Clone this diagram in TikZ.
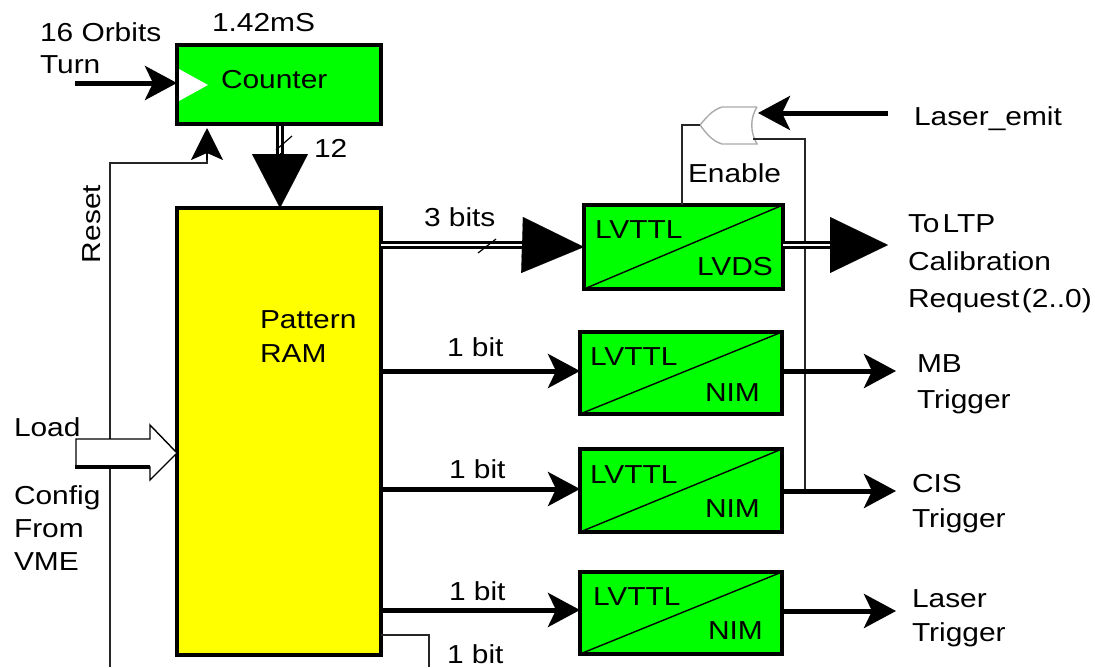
\documentclass[tikz,border=0pt]{standalone}
\usepackage{fontspec}
\setmainfont[FakeStretch=1.15]{Liberation Sans}
\usetikzlibrary{arrows.meta,calc}
\definecolor{boxgreen}{RGB}{0,255,0}
\definecolor{ramyellow}{RGB}{255,255,0}
\definecolor{gategray}{RGB}{170,170,170}
\tikzset{
  lbl/.style={anchor=base west,inner sep=0pt,outer sep=0pt,font=\fontsize{26}{28}\selectfont,text=black},
  greenbox/.style={draw=black,line width=4pt,fill=boxgreen,anchor=north west,inner sep=0pt,outer sep=0pt},
  rambox/.style={draw=black,line width=4pt,fill=ramyellow,anchor=north west,inner sep=0pt,outer sep=0pt},
  sig/.style={line width=5pt,-{Stealth[length=32pt,width=34pt,inset=8pt]}},
  thin line/.style={line width=1.6pt,draw=black!85},
  bus/.style={draw=black,line width=3pt,double=white,double distance=2.6pt},
  bushead/.style={line width=0.1pt,-{Triangle[length=#1,width=56pt]}},
  diag/.style={line width=1.4pt,draw=black},
}
\begin{document}
\begin{tikzpicture}[x=1pt,y=-1pt]
\useasboundingbox (0,0) rectangle (1095,667);
\fill[white] (0,0) rectangle (1095,667);

% coordinates for free ends
\coordinate (orbitsin) at (75,83);
\coordinate (resetin) at (110,667);
\coordinate (resetcorner) at (110,163);
\coordinate (resettip) at (207,128);
\coordinate (laserin) at (888,113);
\coordinate (ltpout) at (888,245);
\coordinate (mbout) at (896,371);
\coordinate (cisout) at (896,491);
\coordinate (laserout) at (896,611);
\coordinate (extraend) at (429,667);

% thin lines behind boxes
\draw[thin line] (resetin) -- (resetcorner) -| (207,150);

% boxes
\node[greenbox,minimum width=204pt,minimum height=79pt] (counter) at (177,45) {};
\node[rambox,minimum width=204pt,minimum height=447pt] (ram) at (177,208) {};
\node[greenbox,minimum width=199pt,minimum height=84pt] (lvds) at (584,205) {};
\node[greenbox,minimum width=202pt,minimum height=82pt] (nimA) at (580,332) {};
\node[greenbox,minimum width=202pt,minimum height=83pt] (nimB) at (580,449) {};
\node[greenbox,minimum width=202pt,minimum height=82pt] (nimC) at (580,572) {};

% diagonals
\draw[diag] (lvds.south west) -- (lvds.north east);
\draw[diag] (nimA.south west) -- (nimA.north east);
\draw[diag] (nimB.south west) -- (nimB.north east);
\draw[diag] (nimC.south west) -- (nimC.north east);

% clock triangle
\fill[white] (179,69) -- (208,85) -- (179,101) -- cycle;

% reset head
\draw[line width=1.6pt,-{Stealth[length=32pt,width=32pt,inset=7pt]}] (207,160) -- (207,128);

% clock arrow
\draw[sig] (orbitsin) -- (counter.west |- orbitsin);

% counter to RAM bus
\draw[bus] (280,126) -- (280,160);
\draw[bushead=54pt] (280,153) -- (ram.north -| 280,0);
\draw[line width=1.2pt] (276,150) -- (292,136);

% OR gate
\coordinate (orgate) at (728,125);
\draw[gategray,line width=1.4pt,fill=white] (757,107) -- (722,107) .. controls (712,110) and (706,118) .. (700,125)
  .. controls (706,133) and (712,141) .. (722,144) -- (757,144) .. controls (750,132) and (750,118) .. (757,107);
\draw[thin line] (lvds.north -| 682,0) -- (682,125) -- (700,125);
\draw[thin line] (753,139) -- (805,139) -- (805,491);

% RAM outputs
\draw[bus] (ram.east |- 245,245) -- (530,245);
\draw[bushead=62pt] (522,245) -- (lvds.west);
\draw[line width=1.2pt] (478,253) -- (496,239);

\draw[sig] (ram.east |- 0,371) -- (nimA.west |- 0,371);
\draw[sig] (ram.east |- 0,489) -- (nimB.west |- 0,489);
\draw[sig] (ram.east |- 0,610) -- (nimC.west |- 0,610);
\draw[thin line] (381,635) -- (429,635) -- (extraend);

% box outputs
\draw[bus] (lvds.east |- ltpout) -- (838,245);
\draw[bushead=58pt] (830,245) -- (ltpout);
\draw[sig] (nimA.east |- mbout) -- (mbout);
\draw[sig] (nimB.east |- cisout) -- (cisout);
\draw[sig] (nimC.east |- laserout) -- (laserout);
\draw[line width=5pt,-{Stealth[length=32pt,width=34pt,inset=8pt]}] (laserin) -- (758,113);

% load hollow arrow
\draw[line width=1.4pt,fill=white] (76,439) -- (150,439) -- (150,425) -- (177,453) -- (150,480) -- (150,467) -- (76,467) -- cycle;
\draw[line width=3.5pt] (75,467) -- (150,467);

% labels
\node[lbl] (t16) at (40,41) {16 Orbits};
\node[lbl] (tturn) at (40,73) {Turn};
\node[lbl] (tms) at (212,31) {1.42mS};
\node[lbl] (tcounter) at (221,88) {Counter};
\node[lbl] (t12) at (314,157) {12};
\node[lbl,rotate=90] (treset) at (100,263) {Reset};
\node[lbl] (tpattern) at (260,328) {Pattern};
\node[lbl] (tram) at (260,362) {RAM};
\node[lbl] (tload) at (14,436) {Load};
\node[lbl] (tconfig) at (14,504) {Config};
\node[lbl] (tfrom) at (14,537) {From};
\node[lbl] (tvme) at (14,570) {VME};
\node[lbl] (t3) at (424,226) {3 bits};
\node[lbl] (t1a) at (447,356) {1 bit};
\node[lbl] (t1b) at (449,478) {1 bit};
\node[lbl] (t1c) at (449,600) {1 bit};
\node[lbl] (t1d) at (447,663) {1 bit};
\node[lbl] (tenable) at (688,182) {Enable};
\node[lbl] (tlaser) at (914,125) {Laser\_emit};
\node[lbl] (tltp) at (908,232) {To\hspace{0.12em}LTP};
\node[lbl] (tcal) at (908,270) {Calibration};
\node[lbl] (treq) at (908,307) {Request\hspace{0.1em}(2..0)};
\node[lbl] (tmb) at (917,372) {MB};
\node[lbl] (tmbt) at (917,408) {Trigger};
\node[lbl] (tcis) at (912,492) {CIS};
\node[lbl] (tcist) at (912,527) {Trigger};
\node[lbl] (tlas) at (912,607) {Laser};
\node[lbl] (tlast) at (912,641) {Trigger};
\node[lbl] (va) at (595,238) {LVTTL};
\node[lbl] (vb) at (697,275) {LVDS};
\node[lbl] (na) at (590,365) {LVTTL};
\node[lbl] (nb) at (705,401) {NIM};
\node[lbl] (nc) at (590,483) {LVTTL};
\node[lbl] (nd) at (705,517) {NIM};
\node[lbl] (ne) at (593,605) {LVTTL};
\node[lbl] (nf) at (708,639) {NIM};
\end{tikzpicture}
\end{document}
